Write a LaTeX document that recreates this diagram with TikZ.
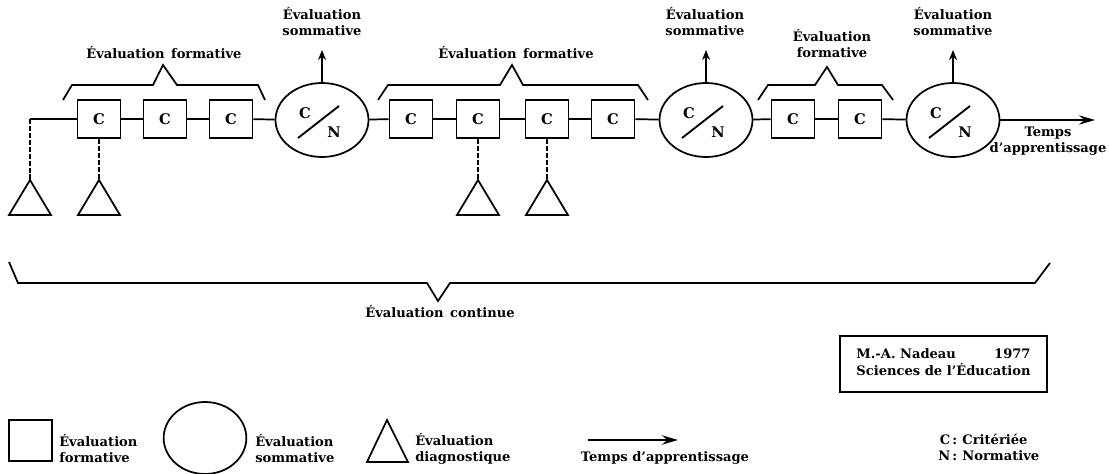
\documentclass[tikz,border=0pt]{standalone}
\usepackage{fontspec}
\setmainfont{DejaVu Serif}
\usetikzlibrary{arrows.meta,shapes.geometric}
\newcommand{\wsp}{\hspace{0.5em}}
\begin{document}
\begin{tikzpicture}[x=0.75pt,y=-0.75pt,
  every node/.style={font=\fontsize{9.8}{12}\selectfont\bfseries},
  line/.style={line width=1.3pt},
  cbox/.style={draw,line width=1.3pt,minimum width=32.25pt,minimum height=28.5pt,inner sep=0pt,font=\fontsize{11}{12}\selectfont\bfseries},
  cnell/.style={draw,ellipse,line width=1.3pt,minimum width=69.75pt,minimum height=55.5pt,inner sep=0pt},
  dashconn/.style={line width=1.8pt,dash pattern=on 4pt off 1.2pt},
  tri/.style={line width=1.3pt,line join=miter},
  brace/.style={line width=1.3pt,line join=miter},
  uparr/.style={line width=1.3pt,-{Stealth[length=7.5pt,width=6pt]}},
  longarr/.style={line width=1.3pt,-{Stealth[length=12pt,width=7pt]}},
  lbl/.style={align=center,inner sep=0pt},
]
\useasboundingbox (0,0) rectangle (1109,474);

% boxes
\foreach \n/\x in {b1/99,b2/165,b3/231,b4/411,b5/478,b6/547,b7/613,b8/793,b9/860}
  \node[cbox] (\n) at (\x,119) {C};

% ellipses C/N
\foreach \n/\x in {e1/322,e2/706,e3/953}{
  \node[cnell] (\n) at (\x,120) {};
  \node[font=\fontsize{11}{12}\selectfont\bfseries] (\n c) at ([shift={(-17,-7)}]\n.center) {C};
  \node[font=\fontsize{11}{12}\selectfont\bfseries] (\n n) at ([shift={(12,12)}]\n.center) {N};
  \draw[line width=1.4pt] ([shift={(-24,18)}]\n.center) coordinate (\n sa) -- ([shift={(17,-14)}]\n.center) coordinate (\n sb);
}

% main line
\coordinate (start) at (30,119);
\draw[line] (start) -- (b1);
\draw[line] (b1) -- (b2);
\draw[line] (b2) -- (b3);
\draw[line] (b3) -- (e1);
\draw[line] (e1) -- (b4);
\draw[line] (b4) -- (b5);
\draw[line] (b5) -- (b6);
\draw[line] (b6) -- (b7);
\draw[line] (b7) -- (e2);
\draw[line] (e2) -- (b8);
\draw[line] (b8) -- (b9);
\draw[line] (b9) -- (e3);
\coordinate (tend) at (1095,120);
\draw[longarr] (e3.east) -- (tend);
\node[lbl] (temps) at (1048,141) {Temps\\d'apprentissage};

% triangles
\foreach \n/\x in {t1/30,t2/99,t3/478,t4/547}{
  \coordinate (\n) at (\x,180);
  \draw[tri] (\n) -- ++(-21,35) -- ++(42,0) -- cycle;
}
\draw[dashconn] (start) -- (t1);
\draw[dashconn] (b1.south) -- (t2);
\draw[dashconn] (b5.south) -- (t3);
\draw[dashconn] (b6.south) -- (t4);

% sommative labels
\foreach \n/\x in {s1/322,s2/705,s3/953}{
  \node[lbl] (\n) at (\x,22) {Évaluation\\sommative};
}
\coordinate (a1) at (322,50);
\coordinate (a2) at (706,50);
\coordinate (a3) at (953,50);
\draw[uparr] (e1.north) -- (a1);
\draw[uparr] (e2.north) -- (a2);
\draw[uparr] (e3.north) -- (a3);

% formative braces
\draw[brace] (63,100) -- (72,85) -- (153,85) -- (163,65) -- (177,85) -- (258,85) -- (265,100);
\node[lbl] (f1) at (164,53) {Évaluation\wsp formative};
\draw[brace] (378,100) -- (388,85) -- (500,85) -- (512,65) -- (523,85) -- (638,85) -- (648,100);
\node[lbl] (f2) at (516,53) {Évaluation\wsp formative};
\draw[brace] (758,100) -- (768,85) -- (815,85) -- (827,67) -- (838,85) -- (882,85) -- (893,100);
\node[lbl] (f3) at (832,44) {Évaluation\\formative};

% continuous brace
\draw[brace] (9,262) -- (18,283) -- (427,283) -- (438,301) -- (450,283) -- (1035,283) -- (1050,263);
\node[lbl] (cont) at (440,312) {Évaluation\wsp continue};

% source box
\node[draw,line width=1.3pt,minimum width=155pt,minimum height=42pt,align=left] (src) at (943.5,364)
  {\begin{tabular}{@{}l@{}}M.-A. Nadeau\hfill 1977\\Sciences de l'Éducation\end{tabular}};

% legend
\node[draw,line width=1.3pt,minimum width=32pt,minimum height=30.5pt,inner sep=0pt] (lsq) at (30.5,440.5) {};
\node[lbl,anchor=west,align=left] (lsqt) at (59,449) {Évaluation\\formative};
\node[draw,ellipse,line width=1.3pt,minimum width=62pt,minimum height=54pt,inner sep=0pt] (lell) at (205,438) {};
\node[lbl,anchor=west,align=left] (lellt) at (255,449) {Évaluation\\sommative};
\coordinate (ltri) at (387,420);
\draw[tri] (ltri) -- (408,462) -- (367,462) -- cycle;
\node[lbl,anchor=west,align=left] (ltrit) at (415,449) {Évaluation\\diagnostique};
\coordinate (la) at (588,440);
\coordinate (lb) at (678,440);
\draw[longarr] (la) -- (lb);
\node[lbl] (lat) at (665,458) {Temps d'apprentissage};
\node[lbl,anchor=west] (cn) at (938,449)
  {\begin{tabular}{@{}r@{\hspace{0.4em}}l@{}}C\,: & Critériée\\N\,: & Normative\end{tabular}};
\end{tikzpicture}
\end{document}
